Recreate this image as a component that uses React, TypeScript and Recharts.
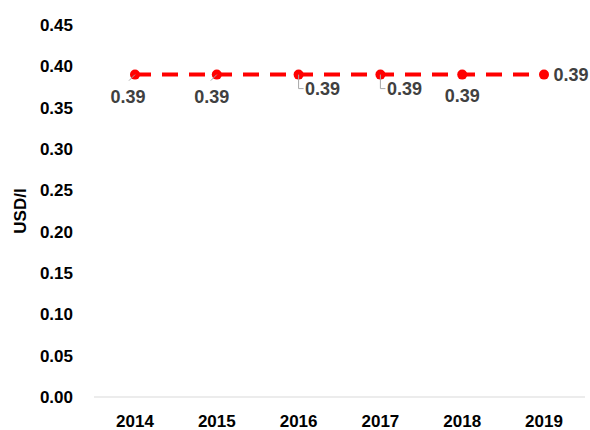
import { LineChart, Line, XAxis, YAxis, CartesianGrid } from 'recharts';

// values
const years = ['2014', '2015', '2016', '2017', '2018', '2019'];
const priceUsd = [0.39, 0.39, 0.39, 0.39, 0.39, 0.39];
const yTicks = [0, 0.05, 0.1, 0.15, 0.2, 0.25, 0.3, 0.35, 0.4, 0.45];

const data = years.map((year, i) => ({ year, price: priceUsd[i] }));

// where each data label sits relative to its point, and what kind of leader line it has
const labelOffsets = [
    { dx: -7, dy: 22, leader: 'diag' },
    { dx: -5, dy: 22, leader: 'diag' },
    { dx: 24, dy: 14, leader: 'elbow' },
    { dx: 24, dy: 14, leader: 'elbow' },
    { dx: 0, dy: 21, leader: 'none' },
    { dx: 27, dy: 0, leader: 'none' },
];

const FONT = '"Liberation Sans", Arial, sans-serif';

const renderLabel = (props: any) => {
    const { x, y, index, value } = props;
    const o = labelOffsets[index];
    const tx = x + o.dx;
    const ty = y + o.dy;
    let leader = null;
    if (o.leader === 'diag') {
        leader = <line x1={x} y1={y} x2={x - 6} y2={y + 6} stroke="#a6a6a6" strokeWidth={1} />;
    } else if (o.leader === 'elbow') {
        leader = <polyline points={`${x},${y} ${x},${ty} ${x + 5},${ty}`} fill="none" stroke="#a6a6a6" strokeWidth={1} />;
    }
    return (
        <g>
            {leader}
            <text x={tx} y={ty} textAnchor="middle" dominantBaseline="central"
                fill="#404040" fontSize={18} fontWeight="bold" fontFamily={FONT}>
                {Number(value).toFixed(2)}
            </text>
        </g>
    );
};

const App = () => {
    return (
        <div style={{ width: 590, height: 430 }}>
            <style>{`body { margin: 0; }`}</style>
            <LineChart width={590} height={430} data={data}
                margin={{ top: 25, right: 5, left: 0, bottom: 0 }}>
                <CartesianGrid horizontal={false} vertical={false} />
                <XAxis dataKey="year" height={33} padding={{ left: 41, right: 41 }}
                    axisLine={{ stroke: '#d9d9d9', strokeWidth: 1 }} tickLine={false}
                    tickSize={0} tickMargin={18}
                    tick={{ fill: '#000', fontSize: 17, fontWeight: 'bold', fontFamily: FONT }} />
                <YAxis width={94} domain={[0, 0.45]} ticks={yTicks} axisLine={false} tickLine={false}
                    tickSize={0} tickMargin={21} interval={0}
                    tickFormatter={(v: number) => v.toFixed(2)}
                    tick={{ fill: '#000', fontSize: 17, fontWeight: 'bold', fontFamily: FONT }}
                    label={{ value: 'USD/l', angle: -90, position: 'insideLeft', offset: 20,
                        style: { textAnchor: 'middle', fill: '#000', fontSize: 17, fontWeight: 'bold', fontFamily: FONT } }} />
                <Line type="linear" dataKey="price" stroke="#ff0000" strokeWidth={4}
                    strokeDasharray="16 11" isAnimationActive={false}
                    dot={{ r: 5, fill: '#ff0000', stroke: '#ff0000', strokeWidth: 0, strokeDasharray: '' }}
                    label={renderLabel} />
            </LineChart>
        </div>
    );
};

export default App;
